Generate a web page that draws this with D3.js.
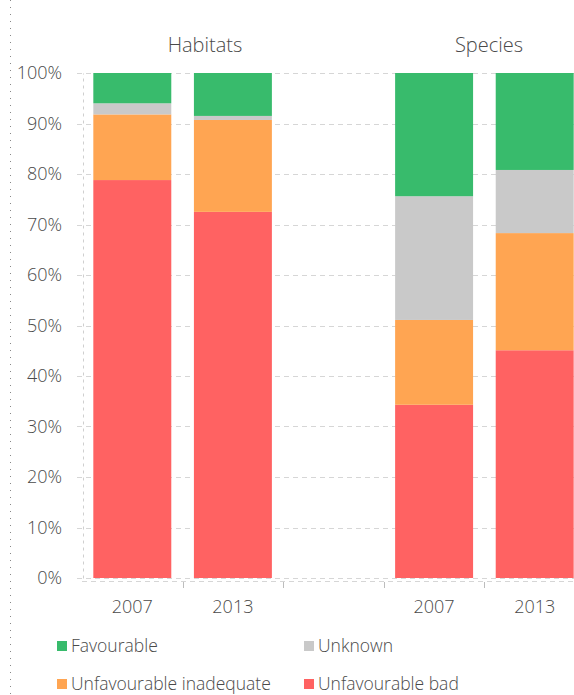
<!DOCTYPE html>
<html>
<head>
<meta charset="utf-8">
<script src="https://cdn.jsdelivr.net/npm/d3@7"></script>
<style>
  html, body { margin: 0; padding: 0; background: #fff; overflow: hidden; }
  svg { display: block; font-family: "Open Sans", sans-serif; }
  text { fill: #4a4a4a; font-weight: 300; }
</style>
</head>
<body>
<svg id="chart" width="574" height="695"></svg>
<script>
// Conservation status shares, per group and reporting period (percent)
const groups = ["Habitats", "Species"];
const years = ["2007", "2013"];
const statuses = ["Favourable", "Unknown", "Unfavourable inadequate", "Unfavourable bad"];
const statusColors = ["#38bb6c", "#c9c9c9", "#ffa552", "#ff6262"];

const favourable = [6.0, 8.5, 24.4, 19.2];
const unknown = [2.2, 0.8, 24.5, 12.5];
const inadequate = [13.0, 18.2, 16.8, 23.2];
const bad = [78.8, 72.5, 34.3, 45.1];

const yTicks = [0, 10, 20, 30, 40, 50, 60, 70, 80, 90, 100];

// Columns: the two Habitats periods, a spacer, then the two Species periods
const slots = ["Habitats|2007", "Habitats|2013", "spacer", "Species|2007", "Species|2013"];
const barKeys = ["Habitats|2007", "Habitats|2013", "Species|2007", "Species|2013"];

const rows = barKeys.map((k, i) => ({
  key: k,
  group: k.split("|")[0],
  year: k.split("|")[1],
  "Favourable": favourable[i],
  "Unknown": unknown[i],
  "Unfavourable inadequate": inadequate[i],
  "Unfavourable bad": bad[i]
}));

const svg = d3.select("#chart");

const x = d3.scaleBand()
  .domain(slots)
  .range([82, 585])
  .paddingInner(0.225)
  .paddingOuter(0.1125);

const y = d3.scaleLinear().domain([0, 100]).range([578, 73]);

const color = d3.scaleOrdinal().domain(statuses).range(statusColors);

// Left page rule
svg.append("line")
  .attr("x1", 10.5).attr("x2", 10.5)
  .attr("y1", 0).attr("y2", 695)
  .attr("stroke", "#888").attr("stroke-width", 1)
  .attr("stroke-dasharray", "1,6");

// Horizontal gridlines
svg.append("g")
  .selectAll("line")
  .data(yTicks)
  .join("line")
  .attr("x1", 77).attr("x2", 574)
  .attr("y1", d => Math.round(y(d)) + 0.5)
  .attr("y2", d => Math.round(y(d)) + 0.5)
  .attr("stroke", "#d6d6d6")
  .attr("stroke-dasharray", "5,4");

// Y axis
const yAxis = svg.append("g")
  .attr("transform", "translate(83,0)")
  .call(d3.axisLeft(y).tickValues(yTicks).tickFormat(d => d + "%").tickSize(0).tickPadding(21));
yAxis.select(".domain")
  .attr("stroke", "#cfcfcf")
  .attr("stroke-dasharray", "3,4");
yAxis.selectAll("text")
  .style("font-size", "18px")
  .style("font-family", "'Open Sans', sans-serif")
  .attr("fill", "#4a4a4a");

// Stacked bars
const stack = d3.stack().keys(statuses.slice().reverse());
const series = stack(rows);

svg.append("g")
  .selectAll("g")
  .data(series)
  .join("g")
  .attr("fill", d => color(d.key))
  .selectAll("rect")
  .data(d => d)
  .join("rect")
  .attr("x", d => x(d.data.key))
  .attr("width", x.bandwidth())
  .attr("y", d => y(d[1]))
  .attr("height", d => y(d[0]) - y(d[1]));

// Bottom axis: baseline with ticks between columns
const step = x.step();
const boundaries = slots.slice(1).map(s => x(s) - step * x.paddingInner() / 2);
svg.append("line")
  .attr("x1", 82).attr("x2", 574)
  .attr("y1", 581.5).attr("y2", 581.5)
  .attr("stroke", "#d6d6d6")
  .attr("stroke-dasharray", "5,4");
svg.append("g")
  .selectAll("line")
  .data(boundaries)
  .join("line")
  .attr("x1", d => Math.round(d) + 0.5).attr("x2", d => Math.round(d) + 0.5)
  .attr("y1", 582).attr("y2", 588)
  .attr("stroke", "#bdbdbd");

// Period labels
svg.append("g")
  .selectAll("text")
  .data(rows)
  .join("text")
  .attr("x", d => x(d.key) + x.bandwidth() / 2)
  .attr("y", 613)
  .attr("text-anchor", "middle")
  .style("font-size", "18px")
  .text(d => d.year);

// Group titles
const titleX = { "Habitats": 205, "Species": 489 };
svg.append("g")
  .selectAll("text")
  .data(groups)
  .join("text")
  .attr("x", d => titleX[d])
  .attr("y", 52)
  .attr("text-anchor", "middle")
  .style("font-size", "20px")
  .attr("fill", "#3a3a3a")
  .text(d => d);

// Legend, two columns
const legendPos = [[58, 646], [305, 646], [58, 684], [305, 684]];
const legend = svg.append("g")
  .selectAll("g")
  .data(statuses)
  .join("g")
  .attr("transform", (d, i) => `translate(${legendPos[i][0]},${legendPos[i][1]})`);
legend.append("rect")
  .attr("x", -1).attr("y", -5)
  .attr("width", 10).attr("height", 10)
  .attr("fill", d => color(d));
legend.append("text")
  .attr("x", 13).attr("y", 0)
  .attr("dy", "0.35em")
  .style("font-size", "17.5px")
  .attr("fill", (d, i) => i === 1 ? "#b5b5b5" : "#4a4a4a")
  .text(d => d);
</script>
</body>
</html>
